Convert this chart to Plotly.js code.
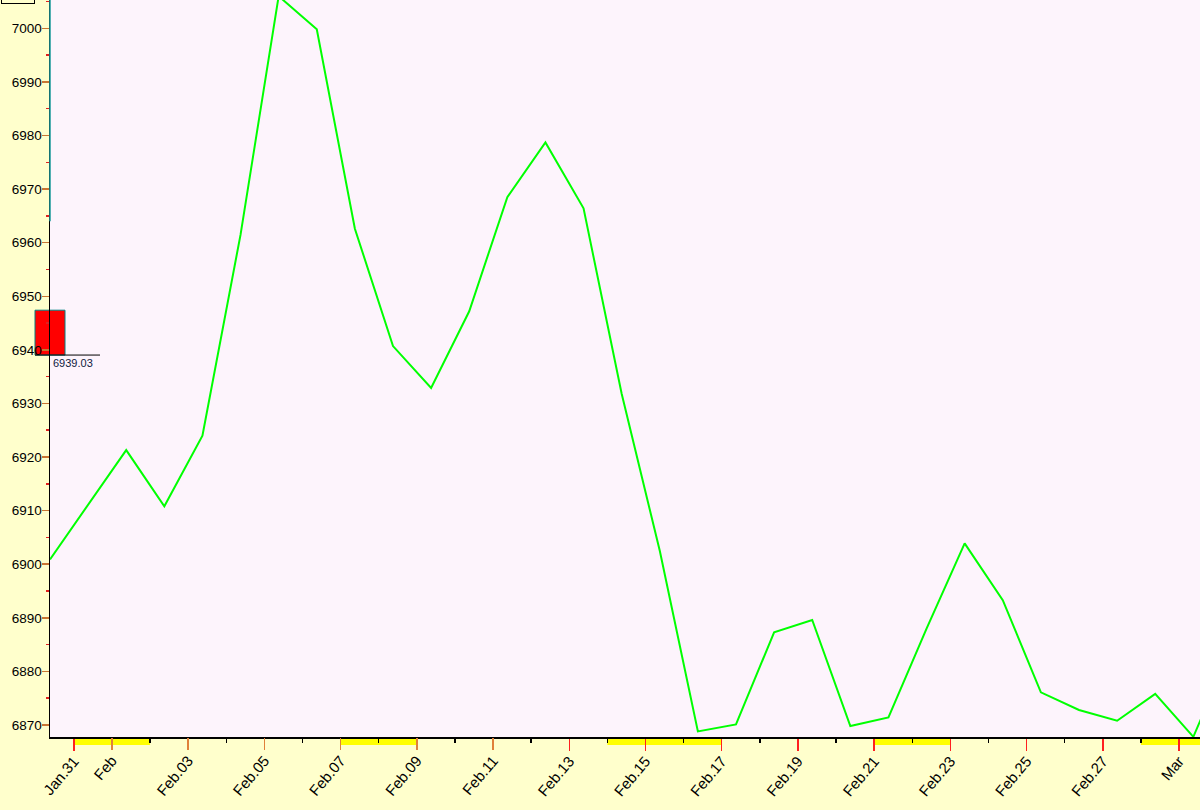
<!DOCTYPE html>
<html>
<head>
<meta charset="utf-8">
<script src="https://cdn.plot.ly/plotly-3.0.1.min.js"></script>
<style>html,body{margin:0;padding:0;background:#FFFFCC;}#chart{width:1200px;height:810px;}</style>
</head>
<body>
<div id="chart"></div>
<script>
// ---- data ----
const dates = [
  '2019-01-30 09:00','2019-01-31 09:00','2019-02-01 09:00','2019-02-02 09:00','2019-02-03 09:00',
  '2019-02-04 09:00','2019-02-05 09:00','2019-02-06 09:00','2019-02-07 09:00','2019-02-08 09:00',
  '2019-02-09 09:00','2019-02-10 09:00','2019-02-11 09:00','2019-02-12 09:00','2019-02-13 09:00',
  '2019-02-14 09:00','2019-02-15 09:00','2019-02-16 09:00','2019-02-17 09:00','2019-02-18 09:00',
  '2019-02-19 09:00','2019-02-20 09:00','2019-02-21 09:00','2019-02-22 09:00','2019-02-23 09:00',
  '2019-02-24 09:00','2019-02-25 09:00','2019-02-26 09:00','2019-02-27 09:00','2019-02-28 09:00',
  '2019-03-01 09:00','2019-03-02 09:00'
];
const values = [
  6900.9, 6911.1, 6921.3, 6910.8, 6924.0,
  6961.5, 7006.0, 6999.8, 6962.6, 6940.7,
  6932.9, 6947.2, 6968.5, 6978.7, 6966.4,
  6931.8, 6902.5, 6868.8, 6870.1, 6887.3,
  6889.6, 6869.8, 6871.4, 6888.0, 6903.9,
  6893.3, 6876.1, 6872.8, 6870.8, 6875.8,
  6867.8, 6884.4
];
// tick labels (red ticks / orange ticks)
const redTickVals = ['2019-01-31','2019-02-13','2019-02-15','2019-02-17','2019-02-19','2019-02-21','2019-02-23','2019-02-25','2019-02-27','2019-03-01'];
const redTickText = ['Jan.31','Feb.13','Feb.15','Feb.17','Feb.19','Feb.21','Feb.23','Feb.25','Feb.27','Mar'];
const orangeTickVals = ['2019-02-01','2019-02-03','2019-02-05','2019-02-07','2019-02-09','2019-02-11'];
const orangeTickText = ['Feb','Feb.03','Feb.05','Feb.07','Feb.09','Feb.11'];
const minorTickVals = ['2019-02-02','2019-02-04','2019-02-06','2019-02-08','2019-02-10','2019-02-12','2019-02-14','2019-02-16','2019-02-18','2019-02-20','2019-02-22','2019-02-24','2019-02-26','2019-02-28'];
// highlighted periods (yellow bands under the axis)
const bandStarts = ['2019-01-31','2019-02-07','2019-02-14','2019-02-21','2019-02-28'];
const bandEnds   = ['2019-02-02','2019-02-09','2019-02-17','2019-02-23','2019-03-03'];
// current value marker
const markerTop = 6947.4;
const markerValue = 6939.03;
const markerLabel = '6939.03';

// ---- layout constants ----
const xRange = ['2019-01-30 09:00', '2019-03-01 13:12'];
const yRange = [6867.76, 7005.28];
const plotW = 1150, plotH = 737;
const px = p => p / plotW;   // pixel offset -> paper x
const font = 'Liberation Sans, Arial, sans-serif';

const traces = [
  {x: dates, y: values, type: 'scatter', mode: 'lines', xaxis: 'x', yaxis: 'y',
   line: {color: '#00FF00', width: 2}, hoverinfo: 'x+y', showlegend: false},
  {x: dates, y: values, type: 'scatter', mode: 'lines', xaxis: 'x2', yaxis: 'y',
   line: {color: 'rgba(0,0,0,0)', width: 0}, hoverinfo: 'skip', showlegend: false}
];

const shapes = [];
for (let i = 0; i < bandStarts.length; i++) {
  shapes.push({type: 'rect', xref: 'x', yref: 'paper', x0: bandStarts[i], x1: bandEnds[i],
    y0: -8 / plotH, y1: 0, fillcolor: '#FFFF00', line: {width: 0}, layer: 'below'});
}
shapes.push({type: 'rect', xref: 'paper', yref: 'y', x0: px(-15), x1: px(15),
  y0: markerValue, y1: markerTop, fillcolor: '#FF0000', line: {color: '#008080', width: 1}, layer: 'below'});
shapes.push({type: 'line', xref: 'paper', yref: 'y', x0: px(-15), x1: px(50),
  y0: markerValue, y1: markerValue, line: {color: '#000000', width: 1}});
shapes.push({type: 'line', xref: 'paper', yref: 'y', x0: 0, x1: 0,
  y0: 6964, y1: yRange[1], line: {color: '#1a9a9a', width: 1.5}});

const layout = {
  width: 1200, height: 810,
  margin: {l: 50, r: 0, t: 0, b: 73, pad: 0},
  paper_bgcolor: '#FFFFCC',
  plot_bgcolor: '#FDF4FC',
  showlegend: false,
  font: {family: font, size: 13, color: '#000000'},
  xaxis: {
    type: 'date', range: xRange, showgrid: false, zeroline: false,
    showline: true, linecolor: '#000000', linewidth: 1.5,
    tickmode: 'array', tickvals: redTickVals, ticktext: redTickText,
    ticks: 'outside', ticklen: 12, tickwidth: 1.5, tickcolor: '#FF2020',
    tickangle: -50, ticklabelstandoff: -4, tickfont: {family: font, size: 15, color: '#000000'},
    minor: {tickmode: 'array', tickvals: minorTickVals, ticks: 'outside', ticklen: 4, tickwidth: 1.5, tickcolor: '#000000', showgrid: false}
  },
  xaxis2: {
    type: 'date', range: xRange, overlaying: 'x', anchor: 'y', side: 'bottom',
    showgrid: false, zeroline: false, showline: false,
    tickmode: 'array', tickvals: orangeTickVals, ticktext: orangeTickText,
    ticks: 'outside', ticklen: 12, tickwidth: 1.5, tickcolor: '#E0803A',
    tickangle: -50, ticklabelstandoff: -4, tickfont: {family: font, size: 15, color: '#000000'}
  },
  yaxis: {
    range: yRange, showgrid: false, zeroline: false,
    showline: true, linecolor: '#000000', linewidth: 1.5,
    tickmode: 'linear', tick0: 6870, dtick: 10,
    ticks: 'outside', ticklen: 7, tickwidth: 1.5, tickcolor: '#C87533',
    ticklabelstandoff: -3, tickfont: {family: font, size: 13.5, color: '#000000'},
    minor: {tick0: 6865, dtick: 5, ticks: 'outside', ticklen: 3, tickwidth: 1.5, tickcolor: '#E02020', showgrid: false}
  },
  shapes: shapes,
  annotations: [
    {xref: 'paper', yref: 'y', x: px(1), y: markerValue, xanchor: 'left', yanchor: 'top',
     text: markerLabel, showarrow: false, font: {family: font, size: 11, color: '#102040'}},
    {xref: 'paper', yref: 'paper', x: px(-15), y: 1 - 4 / plotH, xanchor: 'right', yanchor: 'bottom',
     text: 'Mean', showarrow: false, bgcolor: '#FFFFCC', bordercolor: '#000000', borderwidth: 1,
     font: {family: font, size: 12, color: '#000000'}}
  ]
};

Plotly.newPlot('chart', traces, layout, {displayModeBar: false, staticPlot: true});
</script>
</body>
</html>
